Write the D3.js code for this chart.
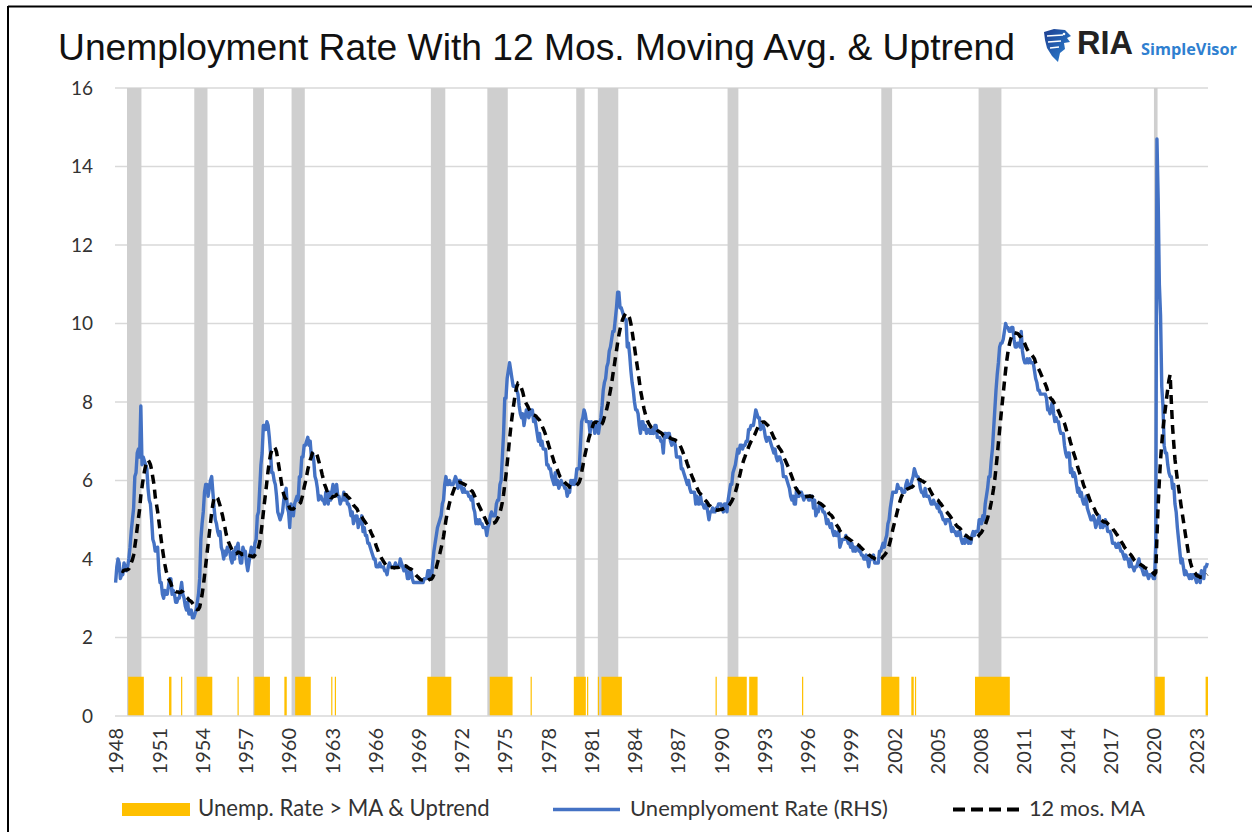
<!DOCTYPE html>
<html><head><meta charset="utf-8">
<script src="https://cdn.jsdelivr.net/npm/d3@7"></script>
<style>body{margin:0;background:#fff}svg{display:block}</style>
</head><body>
<svg id="c" width="1252" height="832"></svg>
<script>
// ---------------- DATA ----------------
const startYear = 1948;
// Monthly unemployment rate (%), Jan 1948 .. Oct 2023
const rate = [
/*1948*/3.4,3.8,4.0,3.9,3.5,3.6,3.6,3.9,3.8,3.7,3.8,4.0,
/*1949*/4.3,4.7,5.0,5.3,6.1,6.2,6.7,6.8,6.6,7.9,6.4,6.6,
/*1950*/6.5,6.4,6.3,5.8,5.5,5.4,5.0,4.5,4.4,4.2,4.2,4.3,
/*1951*/3.7,3.4,3.4,3.1,3.0,3.2,3.1,3.1,3.3,3.5,3.5,3.1,
/*1952*/3.2,3.1,2.9,2.9,3.0,3.0,3.2,3.4,3.1,3.0,2.8,2.7,
/*1953*/2.9,2.6,2.6,2.7,2.5,2.5,2.6,2.7,2.9,3.1,3.5,4.5,
/*1954*/4.9,5.2,5.7,5.9,5.9,5.6,5.8,6.0,6.1,5.7,5.3,5.0,
/*1955*/4.9,4.7,4.6,4.7,4.3,4.2,4.0,4.2,4.1,4.3,4.2,4.2,
/*1956*/4.0,3.9,4.2,4.0,4.3,4.3,4.4,4.1,3.9,3.9,4.3,4.2,
/*1957*/4.2,3.9,3.7,3.9,4.1,4.3,4.2,4.1,4.4,4.5,5.1,5.2,
/*1958*/5.8,6.4,6.7,7.4,7.4,7.3,7.5,7.4,7.1,6.7,6.2,6.2,
/*1959*/6.0,5.9,5.6,5.2,5.1,5.0,5.1,5.2,5.5,5.7,5.8,5.3,
/*1960*/5.2,4.8,5.4,5.2,5.1,5.4,5.5,5.6,5.5,6.1,6.1,6.6,
/*1961*/6.6,6.9,6.9,7.0,7.1,6.9,7.0,6.6,6.7,6.5,6.1,6.0,
/*1962*/5.8,5.5,5.6,5.6,5.5,5.5,5.4,5.7,5.6,5.4,5.7,5.5,
/*1963*/5.7,5.9,5.7,5.7,5.9,5.6,5.6,5.4,5.5,5.5,5.7,5.5,
/*1964*/5.6,5.4,5.4,5.3,5.1,5.2,4.9,5.0,5.1,5.1,4.8,5.0,
/*1965*/4.9,5.1,4.7,4.8,4.6,4.6,4.4,4.4,4.3,4.2,4.1,4.0,
/*1966*/4.0,3.8,3.8,3.8,3.9,3.8,3.8,3.8,3.7,3.7,3.6,3.8,
/*1967*/3.9,3.8,3.8,3.8,3.8,3.9,3.8,3.8,3.8,4.0,3.9,3.8,
/*1968*/3.7,3.8,3.7,3.5,3.5,3.7,3.7,3.5,3.4,3.4,3.4,3.4,
/*1969*/3.4,3.4,3.4,3.4,3.4,3.5,3.5,3.5,3.7,3.7,3.5,3.5,
/*1970*/3.9,4.2,4.4,4.6,4.8,4.9,5.0,5.1,5.4,5.5,5.9,6.1,
/*1971*/5.9,5.9,6.0,5.9,5.9,5.9,6.0,6.1,6.0,5.8,6.0,6.0,
/*1972*/5.8,5.7,5.8,5.7,5.7,5.7,5.6,5.6,5.5,5.6,5.3,5.2,
/*1973*/4.9,5.0,4.9,5.0,4.9,4.9,4.8,4.8,4.8,4.6,4.8,4.9,
/*1974*/5.1,5.2,5.1,5.1,5.1,5.4,5.5,5.5,5.9,6.0,6.6,7.2,
/*1975*/8.1,8.1,8.6,8.8,9.0,8.8,8.6,8.4,8.4,8.4,8.3,8.2,
/*1976*/7.9,7.7,7.6,7.7,7.4,7.6,7.8,7.8,7.6,7.7,7.8,7.8,
/*1977*/7.5,7.6,7.4,7.2,7.0,7.2,6.9,7.0,6.8,6.8,6.8,6.4,
/*1978*/6.4,6.3,6.3,6.1,6.0,5.9,6.2,5.9,6.0,5.8,5.9,6.0,
/*1979*/5.9,5.9,5.8,5.8,5.6,5.7,5.7,6.0,5.9,6.0,5.9,6.0,
/*1980*/6.3,6.3,6.3,6.9,7.5,7.6,7.8,7.7,7.5,7.5,7.5,7.2,
/*1981*/7.5,7.4,7.4,7.2,7.5,7.5,7.2,7.4,7.6,7.9,8.3,8.5,
/*1982*/8.6,8.9,9.0,9.3,9.4,9.6,9.8,9.8,10.1,10.4,10.8,10.8,
/*1983*/10.4,10.4,10.3,10.2,10.1,10.1,9.4,9.5,9.2,8.8,8.5,8.3,
/*1984*/8.0,7.8,7.8,7.7,7.4,7.2,7.5,7.5,7.3,7.4,7.2,7.3,
/*1985*/7.3,7.2,7.2,7.3,7.2,7.4,7.4,7.1,7.1,7.1,7.0,7.0,
/*1986*/6.7,7.2,7.2,7.1,7.2,7.2,7.0,6.9,7.0,7.0,6.9,6.6,
/*1987*/6.6,6.6,6.6,6.3,6.3,6.2,6.1,6.0,5.9,6.0,5.8,5.7,
/*1988*/5.7,5.7,5.7,5.4,5.6,5.4,5.4,5.6,5.4,5.4,5.3,5.3,
/*1989*/5.4,5.2,5.0,5.2,5.2,5.3,5.2,5.2,5.3,5.3,5.4,5.4,
/*1990*/5.4,5.3,5.2,5.4,5.4,5.2,5.5,5.7,5.9,5.9,6.2,6.3,
/*1991*/6.4,6.6,6.8,6.7,6.9,6.9,6.8,6.9,6.9,7.0,7.0,7.3,
/*1992*/7.3,7.4,7.4,7.4,7.6,7.8,7.7,7.6,7.6,7.3,7.4,7.4,
/*1993*/7.3,7.1,7.0,7.1,7.1,7.0,6.9,6.8,6.7,6.8,6.6,6.5,
/*1994*/6.6,6.6,6.5,6.4,6.1,6.1,6.1,6.0,5.9,5.8,5.6,5.5,
/*1995*/5.6,5.4,5.4,5.8,5.6,5.6,5.7,5.7,5.6,5.5,5.6,5.6,
/*1996*/5.6,5.5,5.5,5.6,5.6,5.3,5.5,5.1,5.2,5.2,5.4,5.4,
/*1997*/5.3,5.2,5.2,5.1,4.9,5.0,4.9,4.8,4.9,4.7,4.6,4.7,
/*1998*/4.6,4.6,4.7,4.3,4.4,4.5,4.5,4.5,4.6,4.5,4.4,4.4,
/*1999*/4.3,4.4,4.2,4.3,4.2,4.3,4.3,4.2,4.2,4.1,4.1,4.0,
/*2000*/4.0,4.1,4.0,3.8,4.0,4.0,4.0,4.1,3.9,3.9,3.9,3.9,
/*2001*/4.2,4.2,4.3,4.4,4.3,4.5,4.6,4.9,5.0,5.3,5.5,5.7,
/*2002*/5.7,5.7,5.7,5.9,5.8,5.8,5.8,5.7,5.7,5.7,5.9,6.0,
/*2003*/5.8,5.9,5.9,6.0,6.1,6.3,6.2,6.1,6.1,6.0,5.8,5.7,
/*2004*/5.7,5.6,5.8,5.6,5.6,5.6,5.5,5.4,5.4,5.5,5.4,5.4,
/*2005*/5.3,5.4,5.2,5.2,5.1,5.0,5.0,4.9,5.0,5.0,5.0,4.9,
/*2006*/4.7,4.8,4.7,4.7,4.6,4.6,4.7,4.7,4.5,4.4,4.5,4.4,
/*2007*/4.6,4.5,4.4,4.5,4.4,4.6,4.7,4.6,4.7,4.7,4.7,5.0,
/*2008*/5.0,4.9,5.1,5.0,5.4,5.6,5.8,6.1,6.1,6.5,6.8,7.3,
/*2009*/7.8,8.3,8.7,9.0,9.4,9.5,9.5,9.6,9.8,10.0,9.9,9.9,
/*2010*/9.8,9.8,9.9,9.9,9.6,9.4,9.4,9.5,9.5,9.4,9.8,9.3,
/*2011*/9.1,9.0,9.0,9.1,9.0,9.1,9.0,9.0,9.0,8.8,8.6,8.5,
/*2012*/8.3,8.3,8.2,8.2,8.2,8.2,8.2,8.1,7.8,7.8,7.7,7.9,
/*2013*/8.0,7.7,7.5,7.6,7.5,7.5,7.3,7.2,7.2,7.2,6.9,6.7,
/*2014*/6.6,6.7,6.7,6.2,6.3,6.1,6.2,6.1,5.9,5.7,5.8,5.6,
/*2015*/5.7,5.5,5.4,5.4,5.6,5.3,5.2,5.1,5.0,5.0,5.1,5.0,
/*2016*/4.8,4.9,5.0,5.1,4.8,4.9,4.8,4.9,5.0,4.9,4.7,4.7,
/*2017*/4.7,4.6,4.4,4.4,4.4,4.3,4.3,4.4,4.3,4.2,4.2,4.1,
/*2018*/4.0,4.1,4.0,4.0,3.8,4.0,3.8,3.8,3.7,3.8,3.8,3.9,
/*2019*/4.0,3.8,3.8,3.7,3.6,3.6,3.7,3.6,3.5,3.6,3.6,3.6,
/*2020*/3.5,3.5,4.4,14.7,13.2,11.0,10.2,8.4,7.9,6.9,6.7,6.7,
/*2021*/6.4,6.2,6.1,6.1,5.8,5.9,5.4,5.2,4.8,4.5,4.2,3.9,
/*2022*/4.0,3.8,3.6,3.7,3.6,3.6,3.5,3.6,3.5,3.6,3.6,3.5,
/*2023*/3.4,3.6,3.5,3.4,3.7,3.6,3.5,3.8,3.8,3.9
];
const maWindow = 12;
const tickLabels = ["1948","1951","1954","1957","1960","1963","1966","1969","1972","1975","1978","1981","1984","1987","1990","1993","1996","1999","2002","2005","2008","2011","2014","2017","2020","2023"];
const yTicks = [0,2,4,6,8,10,12,14,16];
// NBER recessions (peak month .. trough month)
const recessions = [["1948-11","1949-10"],["1953-07","1954-05"],["1957-08","1958-04"],["1960-04","1961-02"],["1969-12","1970-11"],["1973-11","1975-03"],["1980-01","1980-07"],["1981-07","1982-11"],["1990-07","1991-03"],["2001-03","2001-11"],["2007-12","2009-06"],["2020-02","2020-04"]];
// Months flagged "Unemp. Rate > MA & Uptrend"
const signal = [["1948-12","1949-12"],["1951-10","1951-11"],["1952-08","1952-08"],["1953-09","1954-09"],["1956-07","1956-07"],["1957-09","1958-09"],["1959-10","1959-11"],["1960-07","1961-07"],["1963-01","1963-01"],["1963-04","1963-04"],["1969-09","1971-04"],["1974-01","1975-07"],["1976-11","1976-11"],["1979-11","1980-08"],["1980-10","1980-10"],["1981-07","1981-07"],["1981-10","1983-02"],["1989-09","1989-09"],["1990-07","1991-10"],["1992-01","1992-07"],["1995-09","1995-09"],["2001-03","2002-05"],["2003-04","2003-05"],["2003-07","2003-07"],["2007-09","2010-01"],["2020-03","2020-10"],["2023-09","2023-10"]];
const titleText = "Unemployment Rate With 12 Mos. Moving Avg. & Uptrend";
const legendLabels = ["Unemp. Rate > MA & Uptrend","Unemplyoment Rate (RHS)","12 mos. MA"];

// ---------------- CHART ----------------
const svg = d3.select("#c");
const FONT = "Lato, 'Open Sans', sans-serif";
const idx = s => { const [y,m] = s.split("-").map(Number); return (y-startYear)*12 + (m-1); };
const n = rate.length;
const ma = rate.map((v,i) => i < 5 ? null : d3.mean(rate.slice(Math.max(0,i-maWindow+1), i+1)));

const x = d3.scaleLinear().domain([-0.5, n-0.5]).range([115, 1208]);
const y = d3.scaleLinear().domain([0,16]).range([716, 88]);

svg.append("rect").attr("width",1252).attr("height",832).attr("fill","#fff");
// frame
svg.append("line").attr("x1",8).attr("x2",1252).attr("y1",6.5).attr("y2",6.5).attr("stroke","#000").attr("stroke-width",2);
svg.append("line").attr("x1",8).attr("x2",8).attr("y1",6).attr("y2",832).attr("stroke","#000").attr("stroke-width",2);

// gridlines
svg.append("g").selectAll("line").data(yTicks.filter(d=>d>0)).join("line")
  .attr("x1",115).attr("x2",1208).attr("y1",d=>y(d)).attr("y2",d=>y(d))
  .attr("stroke","#d9d9d9").attr("stroke-width",1.5);

// recession bands
svg.append("g").selectAll("rect").data(recessions).join("rect")
  .attr("x",d=>x(idx(d[0])-0.5)).attr("width",d=>x(idx(d[1])+0.5)-x(idx(d[0])-0.5))
  .attr("y",y(16)).attr("height",y(0)-y(16)).attr("fill","#cfcfcf");

// signal bars
svg.append("g").selectAll("rect").data(signal).join("rect")
  .attr("x",d=>x(idx(d[0])-0.5)).attr("width",d=>Math.max(1.2, x(idx(d[1])+0.5)-x(idx(d[0])-0.5)))
  .attr("y",y(1)).attr("height",y(0)-y(1)).attr("fill","#ffc000");

// axis baseline
svg.append("line").attr("x1",115).attr("x2",1208).attr("y1",y(0)).attr("y2",y(0))
  .attr("stroke","#d9d9d9").attr("stroke-width",1.5);

// y axis labels
const yAxis = d3.axisLeft(y).tickValues(yTicks).tickSize(0).tickPadding(0).tickFormat(d3.format("d"));
const gy = svg.append("g").attr("transform","translate(93,0)").call(yAxis);
gy.select(".domain").remove();
gy.selectAll("text").attr("font-family",FONT).attr("font-size",19).attr("fill","#333");

// x axis labels (every 36 months)
const xAxis = d3.axisBottom(x).tickValues(tickLabels.map(t=>(+t-startYear)*12)).tickSize(0)
  .tickFormat((d,i)=>tickLabels[i]);
const gx = svg.append("g").attr("transform",`translate(0,${y(0)})`).call(xAxis);
gx.select(".domain").remove();
gx.selectAll("text").attr("font-family",FONT).attr("font-size",20).attr("fill","#333")
  .attr("transform","rotate(-90)").attr("text-anchor","end").attr("x",-12).attr("y",0).attr("dy","0.36em");

// lines
const line = d3.line().defined(d=>d!=null).x((d,i)=>x(i)).y(d=>y(d));
svg.append("path").datum(rate).attr("d",line).attr("fill","none")
  .attr("stroke","#4472c4").attr("stroke-width",3.4).attr("stroke-linejoin","round");
svg.append("path").datum(ma).attr("d",line).attr("fill","none")
  .attr("stroke","#000").attr("stroke-width",3.5).attr("stroke-dasharray","9,6");

// title
function fitText(sel, target){
  const w = sel.node().getComputedTextLength();
  const fs = parseFloat(sel.attr("font-size"));
  sel.attr("font-size", fs*target/w);
}
const title = svg.append("text").attr("x",58).attr("y",60).attr("font-family","'Liberation Sans', Arial, sans-serif")
  .attr("font-size",36).attr("fill","#111").text(titleText);
title.attr("textLength",957).attr("lengthAdjust","spacingAndGlyphs");

// logo
const logo = svg.append("g").attr("transform","translate(1043,29)");
const grad = svg.append("defs").append("linearGradient").attr("id","lg").attr("x1","0").attr("y1","0").attr("x2","1").attr("y2","1");
grad.append("stop").attr("offset","0").attr("stop-color","#1d3d8f");
grad.append("stop").attr("offset","1").attr("stop-color","#2e86d6");
logo.append("path").attr("d","M1,3 L11,0 L22,1 L28,7 L24,9 L27,13 L21,14 L22,20 L17,24 L15,33 L9,27 L4,19 L2,11 Z").attr("fill","url(#lg)");
[[4,7,20,6],[5,13,18,12],[7,19,16,18]].forEach(a=>logo.append("line").attr("x1",a[0]).attr("y1",a[1]).attr("x2",a[2]).attr("y2",a[3]).attr("stroke","#fff").attr("stroke-width",1.3));
logo.append("circle").attr("cx",21).attr("cy",5).attr("r",1.3).attr("fill","#fff");
const ria = svg.append("text").attr("x",1077).attr("y",54).attr("font-family","'Liberation Sans', Arial, sans-serif")
  .attr("font-weight","bold").attr("font-size",30).attr("fill","#222").text("RIA");
fitText(ria, 56);
const sv = svg.append("text").attr("x",1141).attr("y",55).attr("font-family","'Open Sans', sans-serif")
  .attr("font-weight","bold").attr("font-size",17).attr("fill","#2f7fd0").text("SimpleVisor");
fitText(sv, 96);

// legend
const lg = svg.append("g");
lg.append("rect").attr("x",122).attr("y",803).attr("width",68).attr("height",13).attr("fill","#ffc000");
lg.append("line").attr("x1",553).attr("x2",620).attr("y1",809.5).attr("y2",809.5).attr("stroke","#4472c4").attr("stroke-width",3.5);
lg.append("line").attr("x1",953).attr("x2",1022).attr("y1",809.5).attr("y2",809.5).attr("stroke","#000").attr("stroke-width",4).attr("stroke-dasharray","12,6");
const legPos = [[198,292],[630,258],[1029,116]];
legendLabels.forEach((t,i)=>{
  const tx = lg.append("text").attr("x",legPos[i][0]).attr("y",816).attr("font-family",FONT)
    .attr("font-size",20).attr("fill","#333").text(t);
  fitText(tx, legPos[i][1]);
});
</script>
</body></html>
